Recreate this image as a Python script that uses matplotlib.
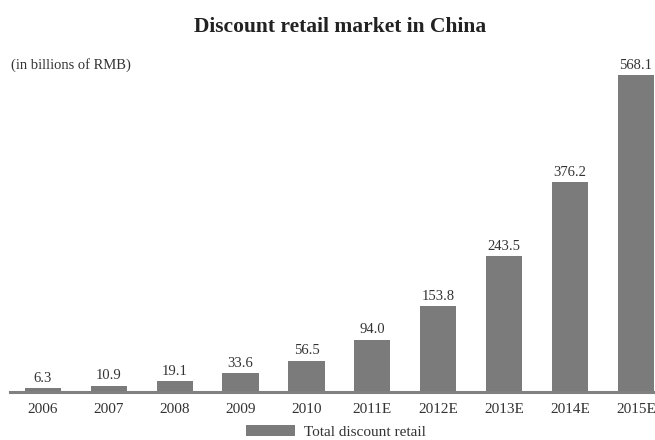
import matplotlib
matplotlib.use("Agg")
import matplotlib.pyplot as plt
from matplotlib.patches import Patch

categories = ["2006", "2007", "2008", "2009", "2010", "2011E", "2012E", "2013E", "2014E", "2015E"]
values = [6.3, 10.9, 19.1, 33.6, 56.5, 94.0, 153.8, 243.5, 376.2, 568.1]
series_name = "Total discount retail"

plt.rcParams['font.family'] = ['Liberation Serif', 'DejaVu Serif']
bar_color = "#7b7b7b"
text_color = "#333333"

fig = plt.figure(figsize=(6.55, 4.4), dpi=100)
ax = fig.add_axes([10/655, 48/440, 645/655, 0.76])

x = list(range(len(categories)))
bars = ax.bar(x, values, width=0.55, color=bar_color, zorder=2)
for xi, v in zip(x, values):
    ax.annotate(f"{v:.1f}", (xi, v), xytext=(0, 2.5), textcoords="offset points",
                ha="center", va="bottom", fontsize=10.5, color=text_color)

ax.set_xlim(-0.5, 9.29)
ax.set_ylim(0, 600)
ax.set_xticks(x)
ax.set_xticklabels(categories, fontsize=11, color=text_color)
ax.tick_params(axis="x", length=0, pad=8)
ax.set_yticks([])
for s in ["top", "left", "right"]:
    ax.spines[s].set_visible(False)
ax.spines["bottom"].set_color("#808080")
ax.spines["bottom"].set_linewidth(2.2)

fig.text(340/655, 1 - 27/440, "Discount retail market in China", ha="center", va="center",
         fontsize=15.5, fontweight="bold", color="#222222")
fig.text(11/655, 1 - 65/440, "(in billions of RMB)", ha="left", va="center",
         fontsize=10.5, color=text_color)

fig.legend(handles=[Patch(facecolor=bar_color, label=series_name)], loc="center",
           bbox_to_anchor=(336/655, 1 - 432/440), frameon=False, fontsize=11,
           handlelength=3.2, handleheight=0.7, handletextpad=0.6, labelcolor=text_color)

fig.savefig("out.png", dpi=100)
